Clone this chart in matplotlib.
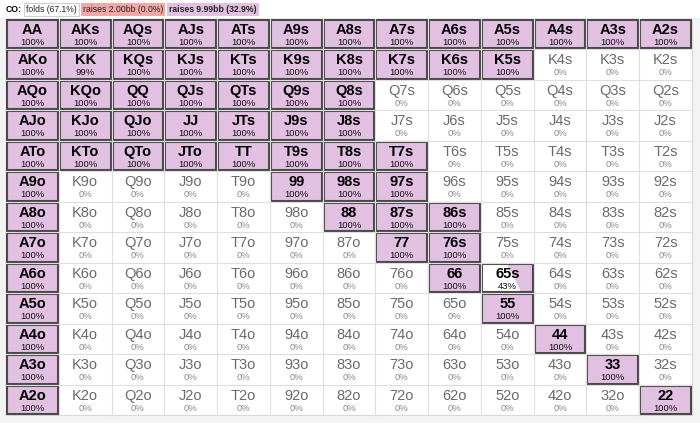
import numpy as np
import matplotlib
matplotlib.use('Agg')
from matplotlib import pyplot as plt
from matplotlib.patches import Rectangle, Polygon

plt.rcParams['font.family'] = ['Liberation Sans', 'DejaVu Sans']

ranks = ['A', 'K', 'Q', 'J', 'T', '9', '8', '7', '6', '5', '4', '3', '2']

# raise frequency (%) per hand, row = first rank, col = second rank
freq = np.array([
    [100, 100, 100, 100, 100, 100, 100, 100, 100, 100, 100, 100, 100],
    [100,  99, 100, 100, 100, 100, 100, 100, 100, 100,   0,   0,   0],
    [100, 100, 100, 100, 100, 100, 100,   0,   0,   0,   0,   0,   0],
    [100, 100, 100, 100, 100, 100, 100,   0,   0,   0,   0,   0,   0],
    [100, 100, 100, 100, 100, 100, 100, 100,   0,   0,   0,   0,   0],
    [100,   0,   0,   0,   0, 100, 100, 100,   0,   0,   0,   0,   0],
    [100,   0,   0,   0,   0,   0, 100, 100, 100,   0,   0,   0,   0],
    [100,   0,   0,   0,   0,   0,   0, 100, 100,   0,   0,   0,   0],
    [100,   0,   0,   0,   0,   0,   0,   0, 100,  43,   0,   0,   0],
    [100,   0,   0,   0,   0,   0,   0,   0,   0, 100,   0,   0,   0],
    [100,   0,   0,   0,   0,   0,   0,   0,   0,   0, 100,   0,   0],
    [100,   0,   0,   0,   0,   0,   0,   0,   0,   0,   0, 100,   0],
    [100,   0,   0,   0,   0,   0,   0,   0,   0,   0,   0,   0, 100],
])

header_labels = ['folds (67.1%)', 'raises 2.00bb (0.0%)', 'raises 9.99bb (32.9%)']
header_colors = ['white', '#f4a7a7', '#e2c0e2']
header_edges = ['#cfcfcf', 'none', 'none']
header_weights = ['normal', 'normal', 'semibold']

PINK = '#e2c0e2'
DARK = '#4a4a4a'

fig = plt.figure(figsize=(7, 4.23), dpi=100, facecolor='#f3f3f3')
ax = fig.add_axes([0, 0, 1, 1])
ax.set_xlim(0, 700)
ax.set_ylim(423, 0)
ax.axis('off')

# header strip
ax.add_patch(Rectangle((0, 0), 700, 18, facecolor='white', edgecolor='none'))
renderer = fig.canvas.get_renderer()
t = ax.text(6, 9.5, 'CO:', fontsize=6.2, fontweight='bold', va='center', ha='left')
xpos = 6 + t.get_window_extent(renderer).width + 4
for lab, fc, ec, fw in zip(header_labels, header_colors, header_edges, header_weights):
    t = ax.text(xpos, 9.5, lab, fontsize=6.2, va='center', ha='left', color='#222',
                fontweight=fw, bbox=dict(boxstyle='square,pad=0.25', fc=fc, ec=ec, lw=0.8))
    xpos += t.get_window_extent(renderer).width + 6

x0, y0 = 6, 19
cw, ch = 52.77, 30.46

# white grid background
ax.add_patch(Rectangle((x0, y0), cw * 13, ch * 13, facecolor='white', edgecolor='#d8d8d8', lw=0.8))
for k in range(1, 13):
    ax.plot([x0 + k * cw] * 2, [y0, y0 + 13 * ch], color='#dedede', lw=0.8)
    ax.plot([x0, x0 + 13 * cw], [y0 + k * ch] * 2, color='#dedede', lw=0.8)

for i in range(13):
    for j in range(13):
        if i == j:
            name = ranks[i] * 2
        elif j > i:
            name = ranks[i] + ranks[j] + 's'
        else:
            name = ranks[j] + ranks[i] + 'o'
        f = freq[i, j]
        cx = x0 + j * cw
        cy = y0 + i * ch
        if f > 0:
            if f >= 99:
                ax.add_patch(Rectangle((cx + 1, cy + 1), cw - 2, ch - 2,
                                       facecolor=PINK, edgecolor='none'))
            else:
                frac = f / 100
                xt = cx + cw * (1 - frac - 0.07)
                xb = cx + cw * (1 - frac + 0.18)
                ax.add_patch(Polygon([(xt, cy + 1), (cx + cw - 1, cy + 1),
                                      (cx + cw - 1, cy + ch - 1), (xb, cy + ch - 1)],
                                     closed=True, facecolor=PINK, edgecolor='none'))
            ax.add_patch(Rectangle((cx + 1, cy + 1), cw - 2, ch - 2,
                                   facecolor='none', edgecolor=DARK, lw=1.5))
            ax.text(cx + cw / 2, cy + 11, name, fontsize=10.5, fontweight='bold',
                    ha='center', va='center', color='black')
            ax.text(cx + cw / 2, cy + 23.5, '%d%%' % f, fontsize=6.8,
                    ha='center', va='center', color='#111')
        else:
            ax.text(cx + cw / 2, cy + 11, name, fontsize=10.5,
                    ha='center', va='center', color='#6a6a6a')
            ax.text(cx + cw / 2, cy + 23.5, '0%', fontsize=6.8,
                    ha='center', va='center', color='#8a8a8a')

fig.savefig('out.png', dpi=100, facecolor=fig.get_facecolor())
